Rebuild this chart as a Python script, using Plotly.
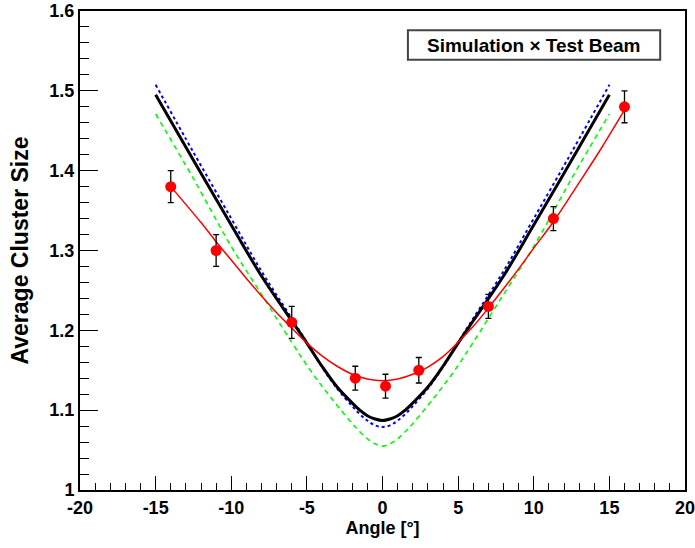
import plotly.graph_objects as go

# ---- data points (test beam) ----
angle = [-14, -11, -6, -1.8, 0.2, 2.4, 7, 11.3, 16]
cluster = [1.38, 1.30, 1.21, 1.14, 1.13, 1.15, 1.23, 1.34, 1.48]
cluster_err = [0.02, 0.02, 0.02, 0.015, 0.015, 0.016, 0.015, 0.015, 0.02]

# ---- red fit curve through test beam ----
fit_x = [-14, -12, -11, -10, -9, -8, -7, -6, -5, -4, -3, -2, -1, 0,
         1, 2, 3, 4, 5, 6, 7, 8, 9, 10, 11.3, 13, 14.5, 16]
fit_y = [1.38, 1.335, 1.311, 1.288, 1.265, 1.243, 1.222, 1.203, 1.184, 1.168, 1.155, 1.145, 1.139, 1.137,
         1.139, 1.145, 1.154, 1.167, 1.185, 1.205, 1.228, 1.252, 1.277, 1.303, 1.336, 1.385, 1.429, 1.476]

# ---- simulation curves ----
sim_x = [-15, -12.5, -10, -8, -6, -5, -4, -3, -2, -1.5, -1, -0.5, 0,
         0.5, 1, 1.5, 2, 3, 4, 5, 6, 8, 10, 12.5, 15]
sim_black = [1.495, 1.413, 1.332, 1.268, 1.212, 1.184, 1.155, 1.129, 1.109, 1.100, 1.093, 1.089, 1.087,
             1.089, 1.093, 1.100, 1.109, 1.129, 1.155, 1.184, 1.212, 1.268, 1.332, 1.413, 1.495]
sim_blue = [1.5075, 1.423, 1.340, 1.274, 1.215, 1.185, 1.154, 1.127, 1.105, 1.095, 1.087, 1.081, 1.079,
            1.081, 1.087, 1.095, 1.105, 1.127, 1.154, 1.185, 1.215, 1.274, 1.340, 1.423, 1.5075]
sim_green = [1.471, 1.390, 1.305, 1.245, 1.185, 1.156, 1.130, 1.106, 1.083, 1.073, 1.064, 1.058, 1.055,
             1.058, 1.064, 1.073, 1.083, 1.106, 1.130, 1.156, 1.185, 1.245, 1.305, 1.390, 1.471]

x_ticks = [-20, -15, -10, -5, 0, 5, 10, 15, 20]
y_ticks = [1.0, 1.1, 1.2, 1.3, 1.4, 1.5, 1.6]
y_ticklabels = ["1", "1.1", "1.2", "1.3", "1.4", "1.5", "1.6"]

FONT = "Liberation Sans, Arial, Helvetica, sans-serif"

fig = go.Figure()
fig.add_trace(go.Scatter(x=sim_x, y=sim_green, mode="lines", line_shape="spline",
                         line=dict(color="#00ff00", width=1.6, dash="5px,4px"), showlegend=False))
fig.add_trace(go.Scatter(x=sim_x, y=sim_blue, mode="lines", line_shape="spline",
                         line=dict(color="#0000ff", width=2, dash="dot"), showlegend=False))
fig.add_trace(go.Scatter(x=sim_x, y=sim_black, mode="lines", line_shape="spline",
                         line=dict(color="black", width=3), showlegend=False))
fig.add_trace(go.Scatter(x=fit_x, y=fit_y, mode="lines", line_shape="spline",
                         line=dict(color="#ff0000", width=1.5), showlegend=False))
fig.add_trace(go.Scatter(x=angle, y=cluster, mode="markers",
                         marker=dict(color="#ff0000", size=11),
                         error_y=dict(type="data", array=cluster_err, color="black",
                                      thickness=1.3, width=3),
                         showlegend=False))

fig.add_shape(type="rect", xref="paper", yref="paper", x0=0.542, x1=0.959, y0=0.898, y1=0.960,
              line=dict(color="#444444", width=2), fillcolor="white", layer="above")
fig.add_annotation(xref="paper", yref="paper", x=0.750, y=0.929, xanchor="center", yanchor="middle",
                   text="<b>Simulation × Test Beam</b>",
                   showarrow=False, font=dict(family=FONT, size=19, color="black"))

fig.update_xaxes(range=[-20, 20], tickvals=x_ticks, ticktext=[str(v) for v in x_ticks],
                 ticks="inside", ticklen=14, tickwidth=1, tickcolor="black", automargin=False,
                 ticklabeloverflow="allow",
                 minor=dict(ticks="inside", ticklen=7, dtick=1, tickcolor="black", tickwidth=1),
                 showline=True, linecolor="black", linewidth=2, mirror=True,
                 showgrid=False, zeroline=False,
                 tickfont=dict(family=FONT, size=18, color="black", weight="bold"),
                 title=dict(text="<b>Angle [°]</b>", font=dict(family=FONT, size=18, color="black"),
                            standoff=4))
fig.update_yaxes(range=[1.0, 1.6], tickvals=y_ticks, ticktext=y_ticklabels,
                 ticks="inside", ticklen=18, tickwidth=1, tickcolor="black", automargin=False,
                 ticklabeloverflow="allow",
                 minor=dict(ticks="inside", ticklen=9, dtick=0.02, tickcolor="black", tickwidth=1),
                 showline=True, linecolor="black", linewidth=2, mirror=True,
                 showgrid=False, zeroline=False,
                 tickfont=dict(family=FONT, size=18, color="black", weight="bold"),
                 title=dict(text="<b>Average Cluster Size</b>",
                            font=dict(family=FONT, size=23, color="black"), standoff=14))

fig.update_layout(width=695, height=548, margin=dict(l=80, r=10, t=11, b=58),
                  plot_bgcolor="white", paper_bgcolor="white", showlegend=False)

fig.write_html("out.html")
